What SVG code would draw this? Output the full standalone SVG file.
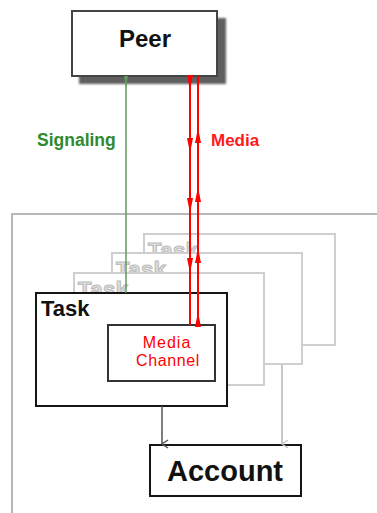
<svg xmlns="http://www.w3.org/2000/svg" width="377" height="513" viewBox="0 0 377 513">
<style>
.bold{font-family:"Liberation Sans",Arial,sans-serif;font-weight:bold}
.ghostbox{fill:#fff;stroke:#cfcfcf;stroke-width:2}
.ghosttext{fill:#e2e2e2;stroke:#bdbdbd;stroke-width:1.2;font-size:22px}
.box{fill:#fff;stroke:#151515;stroke-width:2}
.red{stroke:#ff0000;stroke-width:2;fill:none}
</style>
<defs>
<filter id="blur" x="-10%" y="-10%" width="120%" height="120%"><feGaussianBlur stdDeviation="1.2"/></filter>
<path id="rdown" d="M-3,-15 L3,-15 L0,0 Z" fill="#ff0000"/>
<path id="rup" d="M-3,15 L3,15 L0,0 Z" fill="#ff0000"/>
<marker id="arr" markerWidth="10" markerHeight="8" refX="5" refY="7" orient="auto-start-reverse" markerUnits="userSpaceOnUse" viewBox="0 0 10 8">
<path d="M1,1 L5,7 L9,1" fill="none" stroke="context-stroke" stroke-width="1.5"/>
</marker>
</defs>
<rect width="377" height="513" fill="#fff"/>
<rect id="frame" x="12" y="214" width="400" height="320" fill="none" stroke="#b8b8b8" stroke-width="2"/>

<g id="peer">
<rect x="79" y="18" width="147" height="66" fill="#5e5e5e" filter="url(#blur)"/>
<rect x="72" y="11" width="145" height="65" fill="#fff" stroke="#444" stroke-width="2"/>
<text class="bold" x="145" y="47" font-size="24" text-anchor="middle" fill="#111">Peer</text>
</g>

<g id="task3">
<rect class="ghostbox" x="144" y="234" width="191" height="111"/>
<text class="bold ghosttext" x="148" y="258" letter-spacing="0.5">Task</text>
</g>
<g id="task2">
<rect class="ghostbox" x="112" y="253" width="190" height="111"/>
<text class="bold ghosttext" x="116" y="277" letter-spacing="0.5">Task</text>
</g>
<g id="task1">
<rect class="ghostbox" x="74" y="273" width="190" height="112"/>
<text class="bold ghosttext" x="78" y="297" letter-spacing="0.5">Task</text>
</g>

<g id="task">
<rect class="box" x="36" y="293" width="191" height="113"/>
<text class="bold" x="41" y="316" font-size="22" fill="#111">Task</text>
</g>

<g id="media-channel">
<rect x="108" y="325" width="107" height="56" fill="#fff" stroke="#333" stroke-width="2"/>
<text x="167" y="348" font-family="'Liberation Sans',Arial,sans-serif" font-size="16" letter-spacing="1" text-anchor="middle" fill="#ff0000">Media</text>
<text x="168" y="366" font-family="'Liberation Sans',Arial,sans-serif" font-size="16" letter-spacing="0.6" text-anchor="middle" fill="#ff0000">Channel</text>
</g>

<g id="account">
<rect class="box" x="150" y="445" width="151" height="51"/>
<text class="bold" x="225" y="481" font-size="29" text-anchor="middle" fill="#111">Account</text>
</g>

<g id="connectors">
<line x1="126" y1="76" x2="126" y2="293" stroke="#5f9a5f" stroke-width="1.5"/>
<path d="M124,76 L128,76 L126,88 Z" fill="#5f9a5f"/>
<text class="bold" x="37" y="146" font-size="17.5" fill="#2f8a2f">Signaling</text>

<line class="red" x1="190" y1="76" x2="190" y2="325"/>
<line class="red" x1="198" y1="76" x2="198" y2="325"/>
<use href="#rdown" x="190" y="90"/>
<use href="#rdown" x="190" y="153"/>
<use href="#rdown" x="190" y="213"/>
<use href="#rdown" x="190" y="273"/>
<use href="#rup" x="198" y="128"/>
<use href="#rup" x="198" y="187"/>
<use href="#rup" x="198" y="248"/>
<use href="#rup" x="198" y="312"/>
<text class="bold" x="211" y="146" font-size="17" fill="#ff1a1a">Media</text>

<line x1="162" y1="406" x2="162" y2="444" stroke="#555" stroke-width="1.5" marker-end="url(#arr)"/>
<line x1="282" y1="364" x2="282" y2="444" stroke="#c8c8c8" stroke-width="2" marker-end="url(#arr)"/>
</g>
</svg>
